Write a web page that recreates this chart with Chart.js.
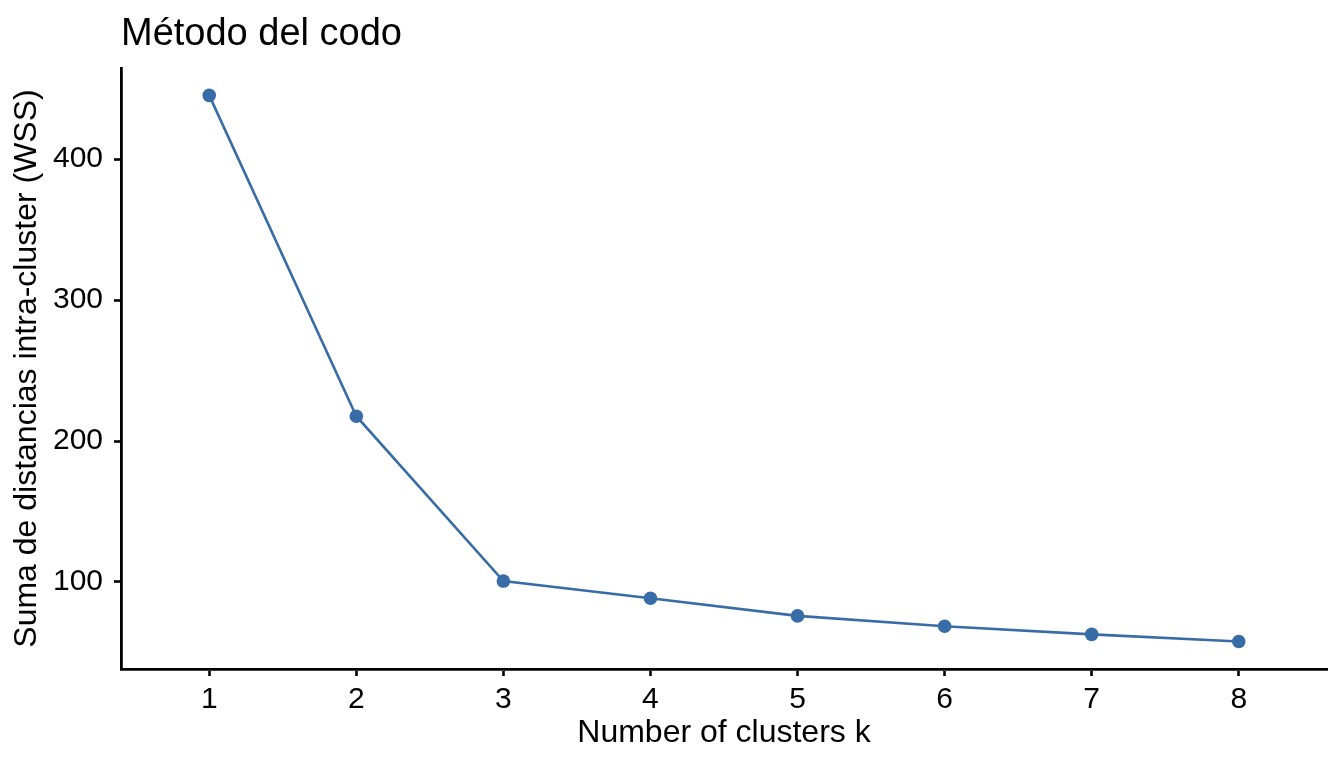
<!DOCTYPE html>
<html>
<head>
<meta charset="utf-8">
<script src="https://cdn.jsdelivr.net/npm/chart.js@4/dist/chart.umd.min.js"></script>
<style>
  html, body { margin: 0; padding: 0; background: #ffffff; }
  #wrap { width: 1344px; height: 768px; }
</style>
</head>
<body>
<div id="wrap"><canvas id="c" width="1344" height="768"></canvas></div>
<script>
const kValues = [1, 2, 3, 4, 5, 6, 7, 8];
const wssValues = [445.3, 217.6, 100.6, 88.4, 75.9, 68.5, 62.8, 57.7];
const xTicks = [1, 2, 3, 4, 5, 6, 7, 8];
const yTicks = [100, 200, 300, 400];
const titleText = 'Método del codo';
const xTitle = 'Number of clusters k';
const yTitle = 'Suma de distancias intra-cluster (WSS)';

const lineColor = '#386ca6';
const FONT = "'Liberation Sans', Arial, Helvetica, sans-serif";
Chart.defaults.color = '#000000';
Chart.defaults.font.family = FONT;

const points = kValues.map((k, i) => ({ x: k, y: wssValues[i] }));

new Chart(document.getElementById('c'), {
  type: 'line',
  data: {
    datasets: [{
      data: points,
      borderColor: lineColor,
      backgroundColor: lineColor,
      borderWidth: 2.6,
      pointRadius: 6.8,
      pointHoverRadius: 6.8,
      pointBackgroundColor: lineColor,
      pointBorderWidth: 0,
      tension: 0,
      fill: false
    }]
  },
  options: {
    responsive: false,
    animation: false,
    devicePixelRatio: 1,
    layout: { padding: { left: 0, right: 17, top: 0, bottom: 0 } },
    plugins: {
      legend: { display: false },
      tooltip: { enabled: false },
      title: {
        display: true,
        text: titleText,
        align: 'start',
        fullSize: false,
        color: '#000000',
        font: { size: 38, weight: 'normal', family: FONT },
        padding: { top: 11.5, bottom: 10.9 }
      }
    },
    scales: {
      x: {
        type: 'linear',
        min: 0.4,
        max: 8.6,
        afterBuildTicks: (s) => { s.ticks = xTicks.map(v => ({ value: v })); },
        afterFit: (s) => { s.height = 99; },
        grid: { display: true, drawOnChartArea: false, drawTicks: true, tickLength: 7, tickWidth: 2.6, tickColor: '#000000' },
        border: { display: true, color: '#000000', width: 2.8 },
        ticks: { color: '#000000', font: { size: 30 }, padding: 5.5, autoSkip: false, maxRotation: 0,
                 callback: (v) => String(v) },
        title: { display: true, text: xTitle, color: '#000000', font: { size: 32 }, padding: { top: 0, bottom: 16 } }
      },
      y: {
        type: 'linear',
        min: 38.2,
        max: 464.7,
        afterBuildTicks: (s) => { s.ticks = yTicks.map(v => ({ value: v })); },
        afterFit: (s) => { s.width = 121; },
        grid: { display: true, drawOnChartArea: false, drawTicks: true, tickLength: 7, tickWidth: 2.6, tickColor: '#000000' },
        border: { display: true, color: '#000000', width: 2.8 },
        ticks: { color: '#000000', font: { size: 30 }, padding: 11, callback: (v) => String(v) },
        title: { display: true, text: yTitle, color: '#000000', font: { size: 32 }, padding: { top: 8, bottom: 0 } }
      }
    }
  }
});
</script>
</body>
</html>
